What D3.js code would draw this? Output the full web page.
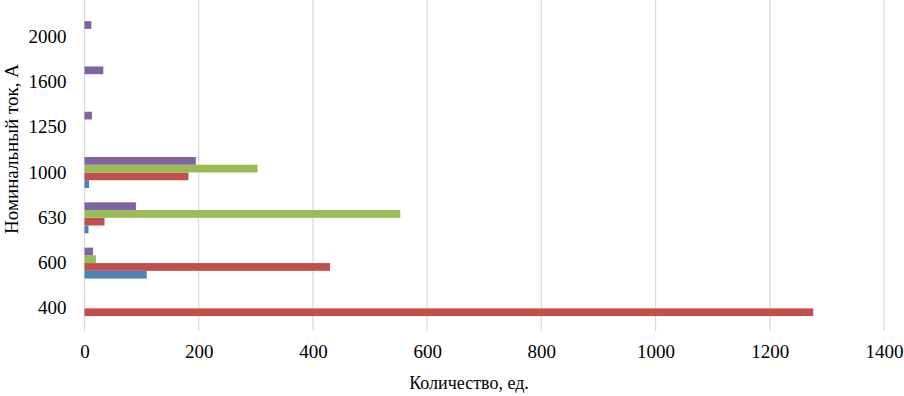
<!DOCTYPE html>
<html>
<head>
<meta charset="utf-8">
<script src="https://cdn.jsdelivr.net/npm/d3@7"></script>
<style>
  body { margin: 0; background: #fff; }
  text { font-family: "Liberation Serif", "Times New Roman", serif; fill: #000; }
</style>
</head>
<body>
<script>
// Rated current categories (bottom to top)
var categories = ["400", "600", "630", "1000", "1250", "1600", "2000"];
var seriesNames = ["s1", "s2", "s3", "s4"];
var seriesColors = ["#4F81BD", "#C0504D", "#9BBB59", "#8064A2"];

// values per series, in category order
var s1Values = [0, 109, 7, 8, 0, 0, 0];
var s2Values = [1276, 430, 35, 182, 0, 0, 0];
var s3Values = [0, 20, 553, 303, 0, 0, 0];
var s4Values = [0, 15, 90, 195, 13, 33, 12];

var xTicks = [0, 200, 400, 600, 800, 1000, 1200, 1400];

var svgWidth = 904;
var svgHeight = 396;

var margin = { top: 14, right: 20, bottom: 65, left: 84.5 };
var chartWidth = 884 - margin.left;
var chartHeight = 331 - margin.top;

var svg = d3.select("body")
  .append("svg")
  .attr("width", svgWidth)
  .attr("height", svgHeight);

var chartGroup = svg.append("g")
  .attr("transform", `translate(${margin.left}, ${margin.top})`);

var allValues = [s1Values, s2Values, s3Values, s4Values];

var xScale = d3.scaleLinear()
  .domain([0, 1400])
  .range([0, chartWidth]);

var yScale = d3.scaleBand()
  .domain(categories)
  .range([chartHeight, 0])
  .paddingInner(0.316)
  .paddingOuter(0.158);

// series stacked bottom-to-top inside each group: s1 lowest, s4 highest
var ySub = d3.scaleBand()
  .domain(seriesNames)
  .range([yScale.bandwidth(), 0]);

// gridlines (run up to the top edge of the picture)
chartGroup.append("g")
  .selectAll("line")
  .data(xTicks)
  .enter()
  .append("line")
  .attr("x1", d => xScale(d))
  .attr("x2", d => xScale(d))
  .attr("y1", -margin.top)
  .attr("y2", chartHeight)
  .attr("stroke", "#D9D9D9")
  .attr("stroke-width", 1.2);

// bars
seriesNames.forEach(function(name, i) {
  chartGroup.append("g")
    .selectAll("rect")
    .data(categories.map((c, j) => ({ cat: c, value: allValues[i][j] })))
    .enter()
    .append("rect")
    .attr("x", xScale(0))
    .attr("y", d => yScale(d.cat) + ySub(name))
    .attr("width", d => xScale(d.value) - xScale(0))
    .attr("height", ySub.bandwidth())
    .attr("fill", seriesColors[i]);
});

// x axis labels
var bottomAxis = d3.axisBottom(xScale)
  .tickValues(xTicks)
  .tickFormat(d3.format("d"))
  .tickSize(0)
  .tickPadding(14);

var xAxisG = chartGroup.append("g")
  .attr("transform", `translate(0, ${chartHeight})`)
  .attr("font-family", "'Liberation Serif', serif")
  .attr("font-size", 19)
  .call(bottomAxis);
xAxisG.select(".domain").remove();
xAxisG.selectAll("text")
  .style("font-size", "19px")
  .style("font-family", "'Liberation Serif', serif");

// y axis labels
var leftAxis = d3.axisLeft(yScale)
  .tickSize(0)
  .tickPadding(18);

var yAxisG = chartGroup.append("g")
  .attr("font-family", "'Liberation Serif', serif")
  .attr("font-size", 19)
  .call(leftAxis);
yAxisG.select(".domain").remove();
yAxisG.selectAll("text")
  .style("font-size", "19px")
  .style("font-family", "'Liberation Serif', serif");

// axis titles
svg.append("text")
  .attr("x", 469)
  .attr("y", 389)
  .attr("text-anchor", "middle")
  .style("font-size", "18px")
  .text("Количество, ед.");

svg.append("text")
  .attr("transform", "translate(18, 149) rotate(-90)")
  .attr("text-anchor", "middle")
  .style("font-size", "19px")
  .text("Номинальный ток, А");
</script>
</body>
</html>
